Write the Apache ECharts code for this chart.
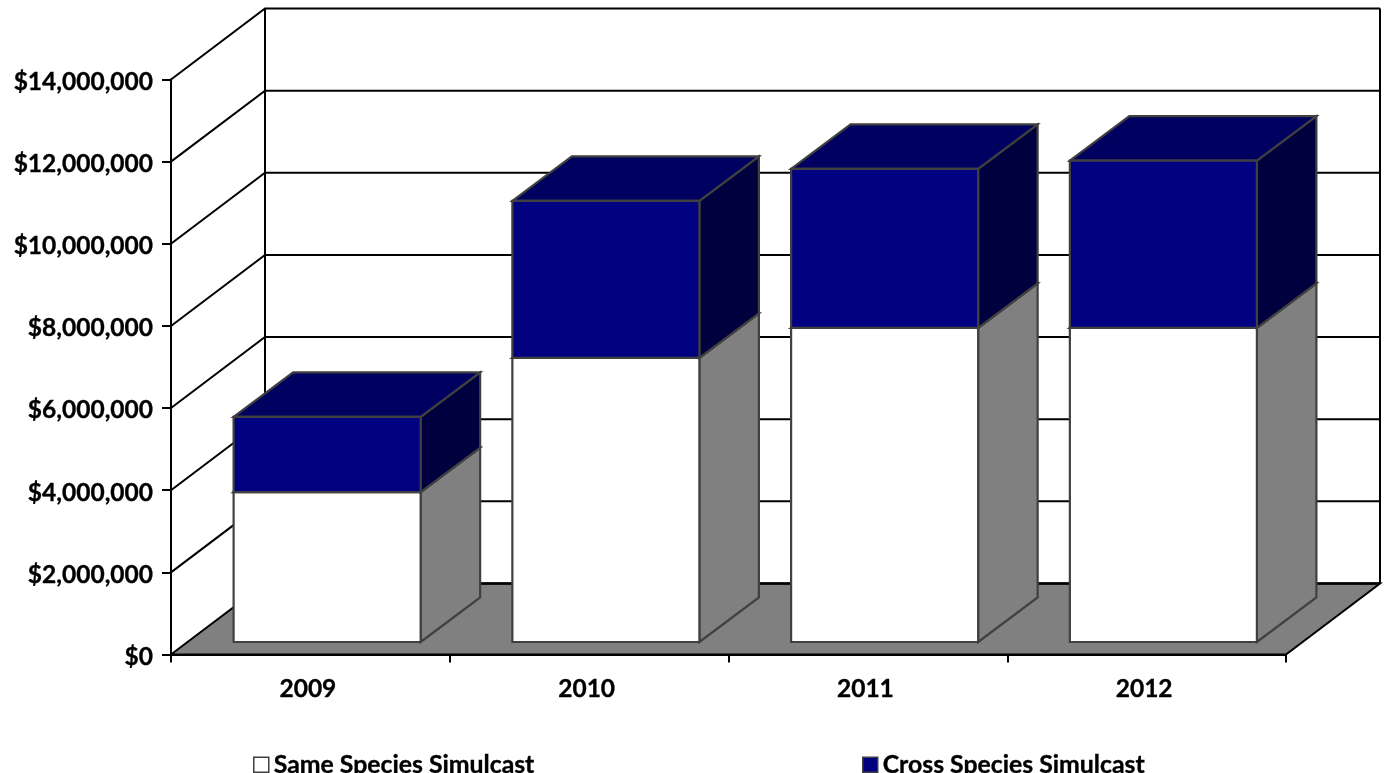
<!DOCTYPE html>
<html>
<head>
<meta charset="utf-8">
<style>html,body{margin:0;padding:0;background:#fff;overflow:hidden}#c{width:1384px;height:773px}</style>
<script src="https://cdn.jsdelivr.net/npm/echarts@6/dist/echarts.min.js"></script>
</head>
<body>
<div id="c"></div>
<script>
const categories = ['2009', '2010', '2011', '2012'];
const sameSpecies = [3650000, 6920000, 7650000, 7650000];
const crossSpecies = [1830000, 3820000, 3870000, 4070000];
const yTicks = [0, 2000000, 4000000, 6000000, 8000000, 10000000, 12000000, 14000000];

const FONT = 'Lato';
const WALL = { dx: 94, dy: -71 };
const BAR = { fx: 16.75, fy: -12.5, dx: 59.5, dy: -44.5, width: 0.671 };
const EDGE = '#404040';
const TEXT = { fontFamily: FONT, fontWeight: 'bold', fontSize: 24.5, color: '#000', textBorderColor: '#000', textBorderWidth: 0.35 };

function poly(points, fill) {
  return { type: 'polygon', shape: { points: points },
    style: { fill: fill, stroke: EDGE, lineWidth: 2.2, lineJoin: 'miter' } };
}
function line(points, w) {
  return { type: 'polyline', shape: { points: points },
    style: { fill: null, stroke: '#000', lineWidth: w } };
}
function renderWall(params, api) {
  const cs = params.coordSys;
  const tick = api.value(0);
  const y = api.coord([0, tick])[1];
  const l = cs.x, r = cs.x + cs.width;
  const children = [];
  if (tick === 0) {
    children.push({ type: 'polygon',
      shape: { points: [[l, y], [l + WALL.dx, y + WALL.dy], [r + WALL.dx, y + WALL.dy], [r, y]] },
      style: { fill: '#808080', stroke: '#000', lineWidth: 2 } });
    children.push(line([[l + WALL.dx, y + WALL.dy], [r + WALL.dx, y + WALL.dy]], 2.5));
  }
  if (tick === yTicks[yTicks.length - 1]) {
    const y0 = api.coord([0, 0])[1];
    children.push(line([[l + WALL.dx, y0 + WALL.dy], [l + WALL.dx, y + WALL.dy]], 2));
    children.push(line([[r + WALL.dx, y0 + WALL.dy], [r + WALL.dx, y + WALL.dy]], 2));
  }
  if (tick !== 0) {
    children.push(line([[l, y], [l + WALL.dx, y + WALL.dy], [r + WALL.dx, y + WALL.dy]], 2));
  }
  return { type: 'group', children: children };
}
function barRenderer(front, top, side) {
  return function (params, api) {
    const cat = api.value(0), base = api.value(2), val = api.value(1);
    const band = api.size([1, 0])[0];
    const w = band * BAR.width;
    const c = api.coord([cat, base]);
    const t = api.coord([cat, base + val]);
    const x0 = c[0] - w / 2 + BAR.fx, x1 = x0 + w;
    const yb = c[1] + BAR.fy, yt = t[1] + BAR.fy;
    const d = BAR.dx, e = BAR.dy;
    return { type: 'group', children: [
      poly([[x1, yb], [x1 + d, yb + e], [x1 + d, yt + e], [x1, yt]], side),
      poly([[x0, yt], [x1, yt], [x1 + d, yt + e], [x0 + d, yt + e]], top),
      poly([[x0, yb], [x1, yb], [x1, yt], [x0, yt]], front)
    ] };
  };
}
function legendCfg(name, left) {
  return { data: [name], left: left, top: 752, padding: 0, itemWidth: 15, itemHeight: 15, itemGap: 8,
    icon: 'rect', selectedMode: false,
    itemStyle: { borderColor: EDGE, borderWidth: 1.5 },
    textStyle: Object.assign({}, TEXT, { fontSize: 24.8 }) };
}
const chart = echarts.init(document.getElementById('c'), null, { renderer: 'canvas' });
chart.setOption({
  animation: false,
  backgroundColor: '#fff',
  grid: { left: 171, top: 79.5, width: 1115, height: 575, containLabel: false },
  legend: [legendCfg('Same Species Simulcast', 253), legendCfg('Cross Species Simulcast', 862)],
  xAxis: {
    type: 'category', data: categories, z: 10,
    axisLine: { show: true, lineStyle: { color: '#000', width: 2 } },
    axisTick: { show: true, length: 8, alignWithLabel: false, lineStyle: { color: '#000', width: 2 } },
    axisLabel: Object.assign({ margin: 22, padding: [0, 5, 0, 0] }, TEXT),
    splitLine: { show: false }
  },
  yAxis: {
    type: 'value', min: 0, max: 14000000, interval: 2000000, z: 10,
    axisLine: { show: true, lineStyle: { color: '#000', width: 2 } },
    axisTick: { show: true, length: 9, lineStyle: { color: '#000', width: 2 } },
    axisLabel: Object.assign({ margin: 18,
      formatter: v => '{v|$' + v.toLocaleString('en-US') + '}',
      rich: { v: Object.assign({ padding: [5, 0, 0, 0] }, TEXT) } }, TEXT),
    splitLine: { show: false }
  },
  series: [
    { type: 'custom', name: 'walls', silent: true, z: 1, clip: false, renderItem: renderWall,
      data: yTicks.map(v => [v]), encode: { y: 0 } },
    { type: 'custom', name: 'Same Species Simulcast', z: 2, clip: false,
      itemStyle: { color: '#ffffff' },
      renderItem: barRenderer('#ffffff', '#c0c0c0', '#808080'),
      data: sameSpecies.map((v, i) => [i, v, 0]), encode: { x: 0, y: 1 } },
    { type: 'custom', name: 'Cross Species Simulcast', z: 3, clip: false,
      itemStyle: { color: '#000080' },
      renderItem: barRenderer('#000080', '#000060', '#00003f'),
      data: crossSpecies.map((v, i) => [i, v, sameSpecies[i]]), encode: { x: 0, y: 1 } }
  ]
});
</script>
</body>
</html>
